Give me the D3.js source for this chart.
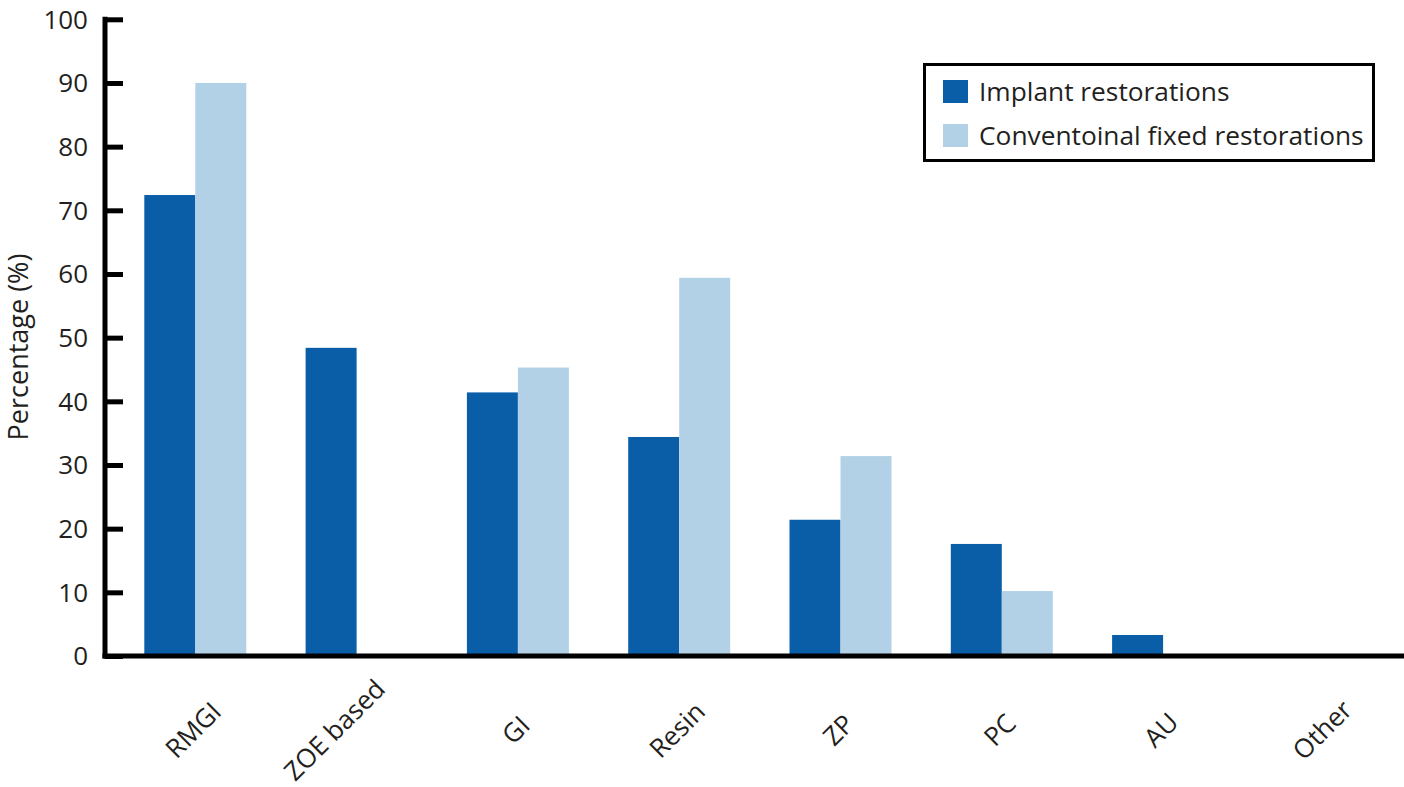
<!DOCTYPE html>
<html>
<head>
<meta charset="utf-8">
<script src="https://cdn.jsdelivr.net/npm/d3@7"></script>
<style>
  html, body { margin: 0; padding: 0; background: #fff; }
  svg { display: block; }
  text { font-family: "Open Sans", "Noto Sans", sans-serif; fill: #231f20; }
</style>
</head>
<body>
<svg id="chart" width="1404" height="787"></svg>
<script>
const categories = ["RMGI", "ZOE based", "GI", "Resin", "ZP", "PC", "AU", "Other"];
const seriesNames = ["Implant restorations", "Conventoinal fixed restorations"];
const implantValues = [72.4, 48.4, 41.4, 34.4, 21.4, 17.6, 3.3, 0];
const conventionalValues = [90.0, 0, 45.3, 59.4, 31.4, 10.2, 0, 0];
const yTicks = [0, 10, 20, 30, 40, 50, 60, 70, 80, 90, 100];
const colors = ["#0a5ea8", "#b3d1e6"];

const svg = d3.select("#chart");
const axisX = 105;
const y = d3.scaleLinear().domain([0, 100]).range([656, 19.3]);

const step = 161.3;
const x = d3.scaleBand().domain(categories)
  .range([144.3 - 29.65, 144.3 - 29.65 + step * categories.length])
  .paddingInner(59.3 / step).paddingOuter(29.65 / step);
const xSub = d3.scaleBand().domain(seriesNames).range([0, x.bandwidth()]);

const data = categories.map((c, i) => ({ cat: c, vals: [implantValues[i], conventionalValues[i]] }));

const groups = svg.append("g").selectAll("g").data(data).join("g")
  .attr("transform", d => `translate(${x(d.cat)},0)`);
groups.selectAll("rect")
  .data(d => d.vals.map((v, k) => ({ v, k })).filter(e => e.v > 0))
  .join("rect")
  .attr("x", e => xSub(seriesNames[e.k]))
  .attr("width", xSub.bandwidth())
  .attr("y", e => y(e.v))
  .attr("height", e => y(0) - y(e.v))
  .attr("fill", e => colors[e.k]);

// y axis
const yAxis = d3.axisRight(y).tickValues(yTicks).tickSize(18).tickFormat("");
const ya = svg.append("g").attr("transform", `translate(${axisX},0)`).call(yAxis);
ya.select(".domain").remove();
ya.selectAll(".tick line").attr("stroke", "#000").attr("stroke-width", 5);
svg.append("line").attr("x1", axisX).attr("x2", axisX).attr("y1", y(100) - 2.5).attr("y2", y(0) + 2.5)
  .attr("stroke", "#000").attr("stroke-width", 5);
svg.selectAll("text.ytick").data(yTicks).join("text").attr("class", "ytick")
  .attr("x", 88).attr("y", d => y(d)).attr("dy", "0.36em")
  .attr("text-anchor", "end").attr("font-size", 26).text(d => d);

// x axis line
svg.append("line").attr("x1", axisX - 2.5).attr("x2", 1404).attr("y1", y(0)).attr("y2", y(0))
  .attr("stroke", "#000").attr("stroke-width", 5);

// x labels (centred, rotated)
const labelNudge = { "ZOE based": -20 };
svg.selectAll("text.xlab").data(categories).join("text").attr("class", "xlab")
  .attr("text-anchor", "middle").attr("font-size", 26).attr("dy", "0.35em")
  .attr("transform", c => `translate(${x(c) + x.bandwidth() / 2 - 2 + (labelNudge[c] || 0)},${730}) rotate(-45)`)
  .text(c => c);

// y title
svg.append("text").attr("font-size", 27).attr("text-anchor", "middle")
  .attr("transform", "translate(28,347) rotate(-90)").text("Percentage (%)");

// legend
const lg = svg.append("g");
lg.append("rect").attr("x", 924.5).attr("y", 64.5).attr("width", 449).attr("height", 96)
  .attr("fill", "#fff").attr("stroke", "#000").attr("stroke-width", 3);
seriesNames.forEach((s, k) => {
  lg.append("rect").attr("x", 943).attr("y", 80 + k * 44).attr("width", 25).attr("height", 23).attr("fill", colors[k]);
  lg.append("text").attr("x", 979).attr("y", 91.5 + k * 44).attr("dy", "0.36em")
    .attr("font-size", 26.3).text(s);
});
</script>
</body>
</html>
